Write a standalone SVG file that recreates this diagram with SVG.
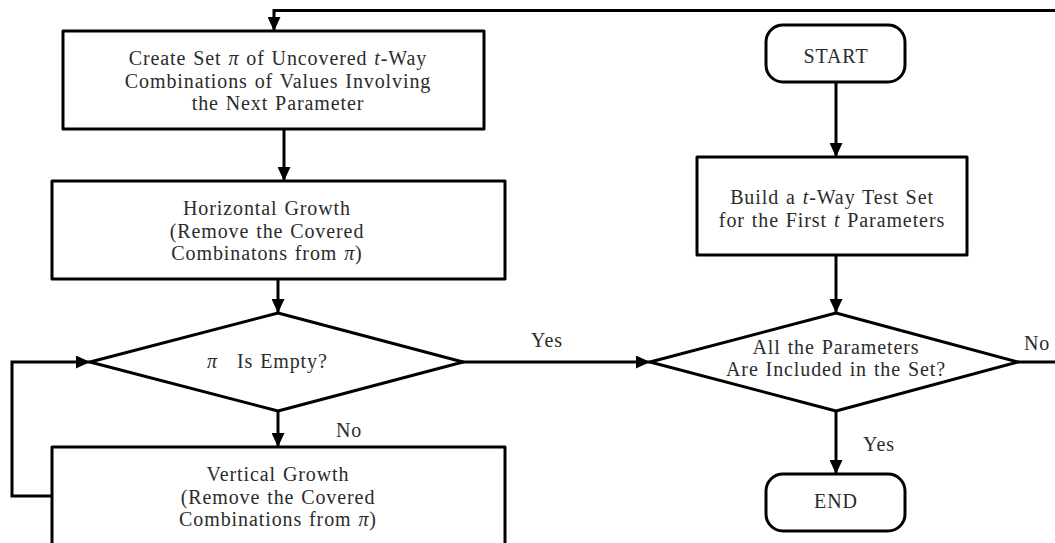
<svg xmlns="http://www.w3.org/2000/svg" width="1055" height="543" viewBox="0 0 1055 543">
  <style>
    .box { fill: #ffffff; stroke: #000000; stroke-width: 3; stroke-linejoin: round; }
    .wire { fill: none; stroke: #000000; stroke-width: 3; stroke-linejoin: miter; }
    text { font-family: "Liberation Serif", "Times New Roman", serif; font-size: 20px; fill: #2b2b2b; letter-spacing: 0.9px; word-spacing: 1px; }
    .c { text-anchor: middle; }
    .m { font-style: italic; }
  </style>
  <defs>
    <marker id="head" viewBox="0 0 14 13" refX="14" refY="6.5" markerWidth="14" markerHeight="13" markerUnits="userSpaceOnUse" orient="auto">
      <path d="M0,0 L14,6.5 L0,13 Z" fill="#000000"/>
    </marker>
  </defs>

  <rect width="1055" height="543" fill="#ffffff"/>

  <!-- connectors; the feedback loop returns along the far right, just past the page edge -->
  <g id="connectors">
    <polyline class="wire" points="1018,362 1060,362 1060,10.5 274,10.5 274,31" marker-end="url(#head)"/>
    <line class="wire" x1="284" y1="129" x2="284" y2="181" marker-end="url(#head)"/>
    <line class="wire" x1="278" y1="279" x2="278" y2="313" marker-end="url(#head)"/>
    <line class="wire" x1="278" y1="411" x2="278" y2="447" marker-end="url(#head)"/>
    <polyline class="wire" points="52,496 12,496 12,362 90,362" marker-end="url(#head)"/>
    <line class="wire" x1="462" y1="362" x2="650" y2="362" marker-end="url(#head)"/>
    <line class="wire" x1="836" y1="82" x2="836" y2="157" marker-end="url(#head)"/>
    <line class="wire" x1="836" y1="255" x2="836" y2="313" marker-end="url(#head)"/>
    <line class="wire" x1="836" y1="411" x2="836" y2="474" marker-end="url(#head)"/>
    <text class="c" x="547" y="347">Yes</text>
    <text class="c" x="349" y="437">No</text>
    <text class="c" x="1037" y="350">No</text>
    <text class="c" x="879" y="451">Yes</text>
  </g>

  <!-- left column -->
  <g id="create-set">
    <rect class="box" x="63" y="31" width="421" height="98"/>
    <text class="c" x="278" y="65">Create Set <tspan class="m">π</tspan> of Uncovered <tspan class="m">t</tspan>-Way</text>
    <text class="c" x="278" y="88">Combinations of Values Involving</text>
    <text class="c" x="278" y="110">the Next Parameter</text>
  </g>

  <g id="horizontal-growth">
    <rect class="box" x="52" y="181" width="453" height="98"/>
    <text class="c" x="267" y="215">Horizontal Growth</text>
    <text class="c" x="267" y="238">(Remove the Covered</text>
    <text class="c" x="267" y="260">Combinatons from <tspan class="m">π</tspan>)</text>
  </g>

  <g id="is-empty">
    <polygon class="box" points="278,313 463,362 278,411 90,362"/>
    <text x="207" y="368"><tspan class="m">π</tspan><tspan x="237">Is Empty?</tspan></text>
  </g>

  <g id="vertical-growth">
    <rect class="box" x="52" y="447" width="453" height="110"/>
    <text class="c" x="278" y="481">Vertical Growth</text>
    <text class="c" x="278" y="504">(Remove the Covered</text>
    <text class="c" x="278" y="526">Combinations from <tspan class="m">π</tspan>)</text>
  </g>

  <!-- right column -->
  <g id="start">
    <rect class="box" x="766" y="25" width="139" height="57" rx="17" ry="17"/>
    <text class="c" x="836" y="63">START</text>
  </g>

  <g id="build">
    <rect class="box" x="697" y="157" width="270" height="98"/>
    <text class="c" x="832" y="204">Build a <tspan class="m">t</tspan>-Way Test Set</text>
    <text class="c" x="832" y="227">for the First <tspan class="m">t</tspan> Parameters</text>
  </g>

  <g id="all-included">
    <polygon class="box" points="836,313 1018,362 836,411 650,362"/>
    <text class="c" x="836" y="354">All the Parameters</text>
    <text class="c" x="836" y="376">Are Included in the Set?</text>
  </g>

  <g id="end">
    <rect class="box" x="766" y="474" width="139" height="57" rx="17" ry="17"/>
    <text class="c" x="836" y="508">END</text>
  </g>
</svg>
